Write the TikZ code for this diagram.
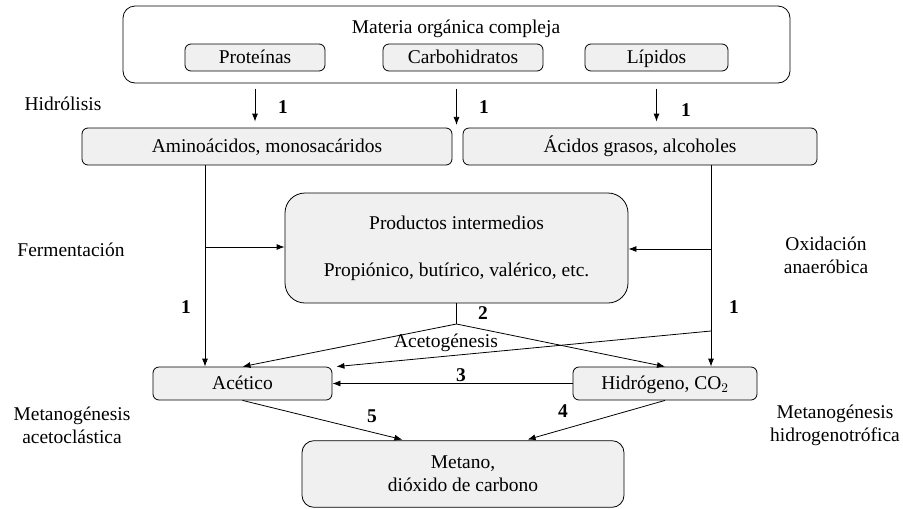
\documentclass[tikz,border=0pt]{standalone}
\usepackage{fontspec}
\setmainfont{Liberation Serif}
\usetikzlibrary{arrows.meta}
\begin{document}
\begin{tikzpicture}[
    x=0.75pt, y=-0.75pt,
    font=\fontsize{14.6}{17.5}\selectfont,
    outer/.style={rectangle, draw, rounded corners=9pt, line width=0.6pt},
    box/.style={rectangle, draw, rounded corners=4.5pt, fill=gray!12, line width=0.6pt, inner sep=0pt},
    small/.style={text height=2ex, text depth=0pt},
    arrow/.style={-{Latex[length=6pt,width=4.5pt]}, line width=0.6pt},
    line/.style={line width=0.6pt},
    num/.style={font=\fontsize{14.6}{17}\selectfont\bfseries},
    stage/.style={align=center}
]
\useasboundingbox (0,0) rectangle (903,508);

% === TOP: complex organic matter ===
\node[outer, minimum width=500.25pt, minimum height=57.75pt] (top) at (456.5,44.5) {};
\node (title) at (456,29) {Materia orgánica compleja};
\node[box, small, minimum width=105pt, minimum height=20.25pt] (prot) at (255,57.5) {Proteínas};
\node[box, small, minimum width=120pt, minimum height=20.25pt] (carb) at (463,57.5) {Carbohidratos};
\node[box, small, minimum width=107.25pt, minimum height=20.25pt] (lip) at (656.5,57.5) {Lípidos};

% Hydrolysis products
\node[box, small, minimum width=277.5pt, minimum height=27.75pt] (amino) at (267,146.5) {Aminoácidos, monosacáridos};
\node[box, small, minimum width=265.5pt, minimum height=27.75pt] (acidos) at (640,146.5) {Ácidos grasos, alcoholes};

% Intermediate products
\node[box, rounded corners=15pt, minimum width=257.25pt, minimum height=82.5pt, align=center] (prod) at (456.5,248)
    {Productos intermedios\\[18pt]Propiónico, butírico, valérico, etc.};

% Acetic, hydrogen, methane
\node[box, small, minimum width=134.25pt, minimum height=24.75pt] (acetico) at (242.5,383.5) {Acético};
\node[box, small, minimum width=138pt, minimum height=24.75pt] (hidro) at (665,383.5) {Hidrógeno, CO$_2$};
\node[box, rounded corners=9pt, minimum width=241.5pt, minimum height=50pt, align=center] (metano) at (463,474)
    {Metano,\\dióxido de carbono};

% Split points
\coordinate (lsplit) at (205,247);
\coordinate (rsplit) at (711,249);
\coordinate (rjoin) at (711,331);
\coordinate (mjoin) at (456.5,324);

% Hydrolysis arrows
\draw[arrow, shorten <=4pt, shorten >=4.5pt] (top.south -| prot) -- (prot |- amino.north);
\draw[arrow, shorten <=4pt, shorten >=2pt] (top.south) -- (top.south |- amino.north);
\draw[arrow, shorten <=4pt, shorten >=4.5pt] (top.south -| lip) -- (lip |- amino.north);

% Fermentation / anaerobic oxidation
\draw[arrow] (amino.south -| lsplit) -- (acetico.north -| lsplit);
\draw[arrow] (lsplit) -- (prod.west |- lsplit);
\draw[arrow] (acidos.south -| rsplit) -- (hidro.north -| rsplit);
\draw[arrow] (rsplit) -- (prod.east |- rsplit);
\draw[arrow] (rjoin) -- ([xshift=3pt]acetico.north east);

% Acetogenesis
\draw[line] (prod.south) -- (mjoin);
\draw[arrow] (mjoin) -- (acetico.north);
\draw[arrow] (mjoin) -- (hidro.north);

% Methanogenesis
\draw[arrow] (hidro.west) -- (acetico.east);
\draw[arrow, shorten >=2pt] (acetico.south) -- ([xshift=-43.5pt]metano.north);
\draw[arrow, shorten >=2pt] (hidro.south) -- ([xshift=46.5pt]metano.north);

% Step numbers
\node[num] at (283,107) {1};
\node[num] at (484,107) {1};
\node[num] at (686,110) {1};
\node[num] at (186,307) {1};
\node[num] at (734,307) {1};
\node[num] at (483,313) {2};
\node[num] at (461,375) {3};
\node[num] at (563,411) {4};
\node[num] at (372,416) {5};

% Stage names
\node[stage] at (63,104) {Hidrólisis};
\node[stage] at (71,250) {Fermentación};
\node[stage] at (826,255) {Oxidación\\anaeróbica};
\node[stage] at (446,343) {Acetogénesis};
\node[stage] at (72,425) {Metanogénesis\\acetoclástica};
\node[stage] at (835,425) {Metanogénesis\\hidrogenotrófica};

\end{tikzpicture}
\end{document}
